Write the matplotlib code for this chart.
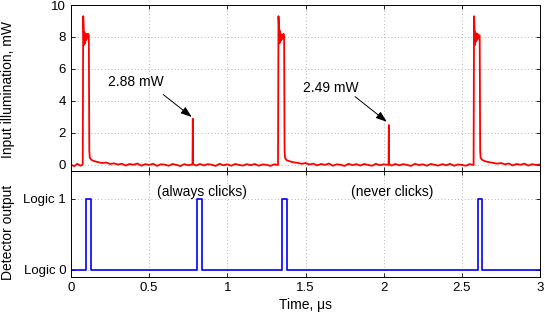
"""Input illumination trace and detector response (two stacked panels)."""

import matplotlib
matplotlib.use("Agg")
import matplotlib.pyplot as plt
import matplotlib.ticker as mticker

plt.rcParams["font.family"] = ["Liberation Sans", "DejaVu Sans"]
plt.rcParams["font.size"] = 9.5

# --- Top panel: optical power trace (time in us, power in mW) ---
trace_t = [
    0.000, 0.020, 0.040, 0.060, 0.075, 0.078, 0.081, 0.083, 0.086, 0.089,
    0.092, 0.096, 0.100, 0.105, 0.110, 0.114, 0.117, 0.120, 0.130, 0.145,
    0.170, 0.200, 0.225, 0.250, 0.275, 0.300, 0.325, 0.350, 0.375, 0.400,
    0.425, 0.450, 0.475, 0.500, 0.525, 0.550, 0.575, 0.600, 0.625, 0.650,
    0.675, 0.700, 0.725, 0.750, 0.777, 0.779, 0.781, 0.800, 0.825, 0.850,
    0.875, 0.900, 0.925, 0.950, 0.975, 1.000, 1.025, 1.050, 1.075, 1.100,
    1.125, 1.150, 1.175, 1.200, 1.225, 1.250, 1.275, 1.300, 1.324, 1.327,
    1.330, 1.332, 1.335, 1.338, 1.341, 1.345, 1.349, 1.354, 1.359, 1.363,
    1.366, 1.369, 1.379, 1.395, 1.420, 1.450, 1.475, 1.500, 1.525, 1.550,
    1.575, 1.600, 1.625, 1.650, 1.675, 1.700, 1.725, 1.750, 1.775, 1.800,
    1.825, 1.850, 1.875, 1.900, 1.925, 1.950, 1.975, 2.000, 2.031, 2.033,
    2.035, 2.050, 2.075, 2.100, 2.125, 2.150, 2.175, 2.200, 2.225, 2.250,
    2.275, 2.300, 2.325, 2.350, 2.375, 2.400, 2.425, 2.450, 2.475, 2.500,
    2.525, 2.550, 2.575, 2.578, 2.581, 2.583, 2.586, 2.589, 2.592, 2.596,
    2.600, 2.605, 2.610, 2.614, 2.617, 2.620, 2.630, 2.645, 2.670, 2.700,
    2.725, 2.750, 2.775, 2.800, 2.825, 2.850, 2.875, 2.900, 2.925, 2.950,
    2.975, 3.000,
]
trace_p = [
    0.02, -0.08, 0.07, -0.05, 0.03, 9.30, 8.60, 7.50, 8.30, 7.60,
    8.10, 7.80, 8.20, 7.90, 8.20, 8.10, 0.90, 0.45, 0.32, 0.25,
    0.18, 0.12, 0.15, 0.06, 0.10, 0.02, 0.08, -0.04, 0.06, 0.01,
    0.09, -0.05, 0.05, 0.00, 0.07, -0.06, 0.04, 0.02, -0.05, 0.06,
    0.00, -0.07, 0.05, -0.02, 0.03, 2.88, 0.05, -0.04, 0.06, -0.03,
    0.05, 0.01, -0.06, 0.07, -0.02, 0.04, -0.05, 0.06, 0.00, -0.04,
    0.05, -0.02, 0.06, -0.05, 0.03, 0.01, -0.06, 0.04, 0.00, 9.30,
    8.70, 7.60, 8.40, 7.70, 8.20, 7.80, 8.10, 7.90, 8.20, 8.00,
    0.90, 0.45, 0.30, 0.24, 0.17, 0.13, 0.07, 0.12, 0.03, 0.08,
    -0.03, 0.06, 0.00, 0.09, -0.05, 0.04, 0.01, -0.06, 0.07, -0.01,
    0.05, -0.04, 0.06, 0.00, -0.05, 0.07, -0.02, 0.04, 0.00, 2.49,
    0.05, -0.04, 0.06, -0.02, 0.05, 0.00, -0.06, 0.07, -0.01, 0.04,
    -0.05, 0.06, 0.01, -0.04, 0.05, -0.02, 0.07, -0.05, 0.03, 0.00,
    -0.05, 0.05, 0.00, 9.30, 8.60, 7.50, 8.30, 7.70, 8.20, 7.80,
    8.20, 7.90, 8.10, 8.10, 0.90, 0.45, 0.32, 0.24, 0.18, 0.13,
    0.08, 0.12, 0.04, 0.09, -0.03, 0.06, 0.01, 0.08, -0.04, 0.05,
    0.00, 0.03,
]

# --- Bottom panel: detector logic output (step trace) ---
det_t = [0.0, 0.096, 0.096, 0.13, 0.13, 0.804, 0.804, 0.84, 0.84,
         1.348, 1.348, 1.38, 1.38, 2.60, 2.60, 2.63, 2.63, 3.0]
det_v = [0, 0, 1, 1, 0, 0, 1, 1, 0, 0, 1, 1, 0, 0, 1, 1, 0, 0]

power_ticks = [0, 2, 4, 6, 8, 10]
logic_ticks = [0, 1]
logic_labels = ["Logic 0", "Logic 1"]
time_ticks = [0, 0.5, 1, 1.5, 2, 2.5, 3]

# annotations: (label, text x, text y, arrow tail, arrow tip)
spike_notes = [
    ("2.88 mW", 0.237, 5.2, (0.59, 4.4), (0.772, 3.0)),
    ("2.49 mW", 1.486, 4.8, (1.817, 4.27), (2.02, 2.7)),
]
click_notes = [("(always clicks)", 0.84), ("(never clicks)", 2.056)]


def style_axis(ax):
    ax.tick_params(direction="in", top=True, right=True, length=3,
                   width=0.6, labelsize=9.5)
    ax.grid(True, linestyle=(0, (1, 3)), color="#a0a0a0", linewidth=0.6)
    for spine in ax.spines.values():
        spine.set_linewidth(0.7)


def main() -> None:
    fig = plt.figure(figsize=(5.45, 3.15), dpi=100)
    ax_top = fig.add_axes([0.1303, 0.4571, 0.8606, 0.527])
    ax_bot = fig.add_axes([0.1303, 0.1206, 0.8606, 0.3365])

    # --- Top: input illumination ---
    ax_top.plot(trace_t, trace_p, color="#ff0000", linewidth=1.3)
    ax_top.set_xlim(0, 3)
    ax_top.set_ylim(-0.38, 10)
    ax_top.set_xticks(time_ticks)
    ax_top.set_xticklabels([])
    ax_top.set_yticks(power_ticks)
    ax_top.set_ylabel("Input illumination, mW", fontsize=10)
    ax_top.yaxis.set_label_coords(-0.12, 0.494)
    style_axis(ax_top)

    for label, tx, ty, tail, tip in spike_notes:
        ax_top.text(tx, ty, label, ha="left", va="center", fontsize=10)
        ax_top.annotate(
            "", xy=tip, xytext=tail,
            arrowprops=dict(arrowstyle="-|>,head_length=0.7,head_width=0.25",
                            color="k", lw=0.7, shrinkA=0, shrinkB=0),
        )

    # --- Bottom: detector output ---
    ax_bot.plot(det_t, det_v, color="#0000ff", linewidth=1.2)
    ax_bot.set_xlim(0, 3)
    ax_bot.set_ylim(-0.1, 1.39)
    ax_bot.set_xticks(time_ticks)
    ax_bot.xaxis.set_major_formatter(mticker.FormatStrFormatter("%g"))
    ax_bot.set_yticks(logic_ticks)
    ax_bot.set_yticklabels(logic_labels)
    ax_bot.set_xlabel("Time, \u03bcs", fontsize=10, labelpad=3)
    ax_bot.set_ylabel("Detector output", fontsize=10)
    ax_bot.yaxis.set_label_coords(-0.12, 0.42)
    style_axis(ax_bot)

    for label, tx in click_notes:
        ax_bot.text(tx, 1.1, label, ha="center", va="center", fontsize=10)

    fig.savefig("out.png", dpi=100)
    plt.close(fig)


if __name__ == "__main__":
    main()
